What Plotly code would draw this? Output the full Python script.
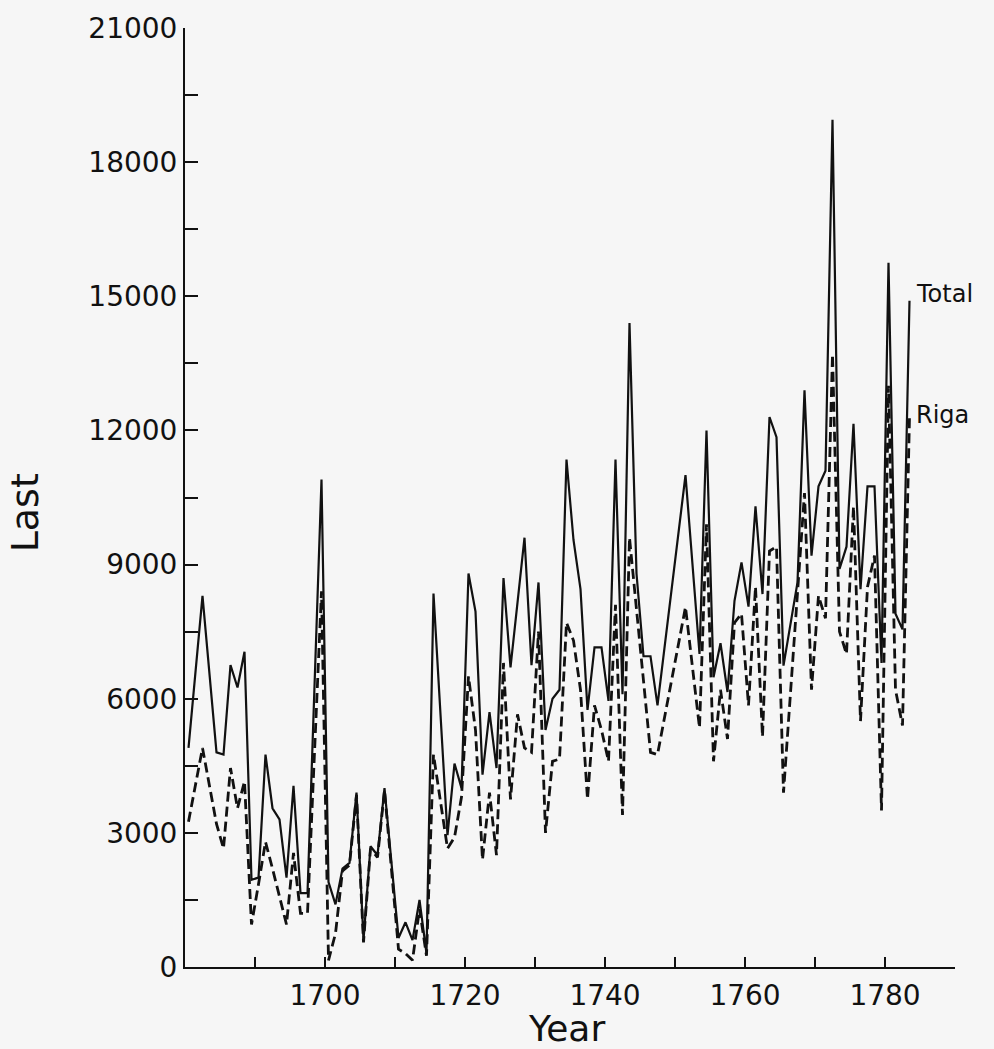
import plotly.graph_objects as go

# Year of each observation (years whose point lies on a straight segment are not listed)
years = [1680, 1682, 1684, 1685, 1686, 1687, 1688, 1689, 1690, 1691,
         1692, 1693, 1694, 1695, 1696, 1697, 1699,
         1700, 1701, 1702, 1703, 1704, 1705, 1706, 1707, 1708,
         1710, 1711, 1712, 1713, 1714, 1715,
         1717, 1718, 1719, 1720, 1721, 1722, 1723, 1724, 1725, 1726, 1727,
         1728, 1729, 1730, 1731, 1732, 1733, 1734, 1735, 1736, 1737, 1738,
         1739, 1740, 1741, 1742, 1743, 1744, 1745, 1746, 1747,
         1751,
         1753, 1754, 1755, 1756, 1757, 1758, 1759, 1760, 1761, 1762, 1763,
         1764, 1765,
         1767, 1768, 1769, 1770, 1771, 1772, 1773, 1774, 1775, 1776, 1777,
         1778, 1779, 1780, 1781, 1782, 1783]

total = [4900, 8300, 4800, 4750, 6750, 6250, 7050, 1950, 2000, 4750,
         3550, 3300, 2000, 4050, 1650, 1650, 10900,
         1900, 1400, 2200, 2330, 3900, 600, 2700, 2500, 4000,
         650, 1000, 600, 1500, 300, 8350,
         2950, 4550, 4000, 8800, 7950, 4300, 5700, 4450, 8700, 6700, 8150,
         9600, 6750, 8600, 5300, 6000, 6200, 11350, 9550, 8450, 5750, 7150,
         7150, 5950, 11350, 6100, 14400, 8800, 6950, 6950, 5850,
         11000,
         7000, 12000, 6480, 7240, 6150, 8190, 9050, 8060, 10300, 8340, 12300,
         11850, 6740,
         8600, 12900, 9200, 10750, 11100, 18950, 8900, 9400, 12150, 8450, 10750,
         10750, 6800, 15750, 7900, 7550, 14900]

riga = [3250, 4900, 3200, 2650, 4450, 3550, 4150, 950, 1850, 2800,
        2200, 1550, 950, 2550, 1200, 1200, 8400,
        150, 750, 2150, 2280, 3850, 550, 2650, 2450, 3950,
        400, 300, 150, 1300, 250, 4750,
        2650, 2900, 3800, 6500, 5300, 2400, 3900, 2500, 6800, 3750, 5650,
        4900, 4800, 7500, 3000, 4600, 4650, 7700, 7300, 6200, 3750, 5850,
        5300, 4600, 8100, 3400, 9600, 8000, 6400, 4800, 4750,
        8050,
        5350, 9900, 4600, 6200, 5100, 7700, 7900, 5850, 8500, 5150, 9300,
        9400, 3900,
        8300, 10600, 6200, 8300, 7800, 13700, 7500, 7000, 10300, 5500, 8500,
        9200, 3500, 13000, 6200, 5400, 12300]

assert len(years) == len(total) == len(riga)

# values are annual totals, plotted at mid-year
xpos = [y + 0.5 for y in years]

x_ticks = list(range(1690, 1791, 10))
x_labels = [str(v) if v in (1700, 1720, 1740, 1760, 1780) else "" for v in x_ticks]
y_ticks = list(range(0, 21001, 1500))
y_labels = [str(v) if v % 3000 == 0 else "" for v in y_ticks]

BG = "#f6f6f6"
INK = "#111111"
FONT = "DejaVu Sans"

fig = go.Figure()
fig.add_trace(go.Scatter(x=xpos, y=riga, mode="lines", name="Riga",
                         line=dict(color=INK, width=2.8, dash="10px,5px")))
fig.add_trace(go.Scatter(x=xpos, y=total, mode="lines", name="Total",
                         line=dict(color=INK, width=2.2)))

fig.update_layout(
    width=994, height=1049,
    margin=dict(l=185, r=39, t=22, b=82),
    paper_bgcolor=BG, plot_bgcolor=BG,
    showlegend=False,
    font=dict(family=FONT, color=INK),
)
fig.update_xaxes(range=[1680, 1790], showgrid=False, zeroline=False,
                 showline=True, linecolor=INK, linewidth=2,
                 ticks="inside", ticklen=10, tickwidth=2, tickcolor=INK,
                 tickmode="array", tickvals=x_ticks, ticktext=x_labels,
                 tickfont=dict(size=28, family=FONT, color=INK),
                 ticklabelstandoff=2)
fig.update_yaxes(range=[0, 21000], showgrid=False, zeroline=False,
                 showline=True, linecolor=INK, linewidth=2,
                 ticks="inside", ticklen=13, tickwidth=2, tickcolor=INK,
                 tickmode="array", tickvals=y_ticks, ticktext=y_labels,
                 tickfont=dict(size=28, family=FONT, color=INK),
                 ticklabelstandoff=0)

# axis titles
fig.add_annotation(text="Year", xref="paper", yref="paper", x=0.496, y=-0.066,
                   showarrow=False, xanchor="center", yanchor="middle",
                   font=dict(size=36, family=FONT, color=INK))
fig.add_annotation(text="Last", xref="paper", yref="paper", x=-0.208, y=0.484,
                   showarrow=False, xanchor="center", yanchor="middle", textangle=-90,
                   font=dict(size=38, family=FONT, color=INK))

# series labels at the line ends
fig.add_annotation(text="Total", x=1784.2, y=15050, xref="x", yref="y",
                   showarrow=False, xanchor="left", yanchor="middle",
                   font=dict(size=24, family=FONT, color=INK))
fig.add_annotation(text="Riga", x=1784.2, y=12350, xref="x", yref="y",
                   showarrow=False, xanchor="left", yanchor="middle",
                   font=dict(size=24, family=FONT, color=INK))

fig.write_html(
    "out.html",
    config={"displayModeBar": False},
    post_script=("document.body.style.margin='0';"
                 "document.body.style.background='" + BG + "';"),
)
